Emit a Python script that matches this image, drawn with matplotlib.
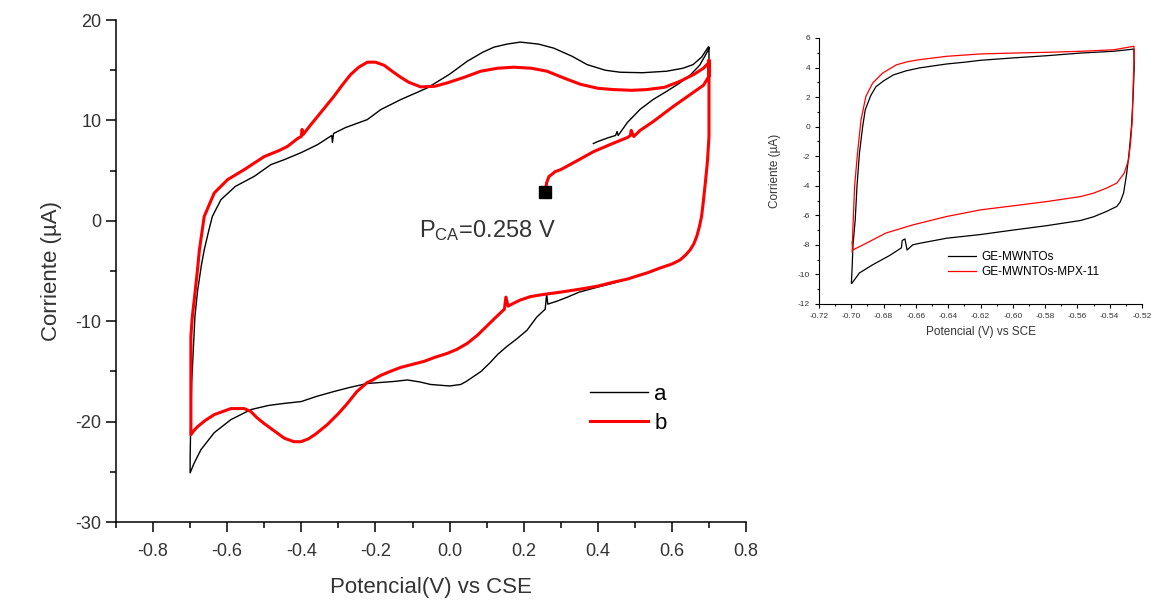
import matplotlib
matplotlib.use("Agg")
import matplotlib.pyplot as plt
from matplotlib.ticker import MultipleLocator

plt.rcParams["font.family"] = ["Liberation Sans", "DejaVu Sans"]
plt.rcParams["mathtext.fontset"] = "custom"
plt.rcParams["mathtext.rm"] = "Liberation Sans"
plt.rcParams["mathtext.it"] = "Liberation Sans"
plt.rcParams["axes.unicode_minus"] = False

TEXT = "#333333"

# ---- main CV, curve a (black) ----
a_x = [0.388, 0.40, 0.43, 0.448, 0.452, 0.455, 0.48, 0.514, 0.55, 0.586, 0.62, 0.649, 0.675, 0.698, 0.700,
       0.700, 0.700, 0.696, 0.691, 0.685, 0.680, 0.674, 0.667, 0.659, 0.649, 0.637, 0.622, 0.60, 0.568,
       0.532, 0.514, 0.48, 0.443, 0.40,
       0.35, 0.318, 0.29, 0.265, 0.262, 0.258, 0.235, 0.209, 0.18, 0.155, 0.13, 0.11, 0.085, 0.065, 0.045,
       0.03, 0.0, -0.051, -0.08, -0.114, -0.15, -0.186, -0.222, -0.27, -0.312, -0.36, -0.40, -0.45, -0.49,
       -0.536, -0.59, -0.635, -0.671, -0.690, -0.700,
       -0.700, -0.699, -0.696, -0.687, -0.680, -0.670, -0.662, -0.650, -0.640, -0.617, -0.578,
       -0.527, -0.482, -0.446, -0.40, -0.356, -0.318, -0.316, -0.313, -0.28, -0.222, -0.186,
       -0.132, -0.06, 0.0, 0.048, 0.09, 0.12, 0.155, 0.191, 0.24, 0.281, 0.33, 0.371, 0.42, 0.46, 0.52,
       0.586, 0.63, 0.657, 0.68, 0.698]
a_y = [7.7, 7.9, 8.3, 8.5, 8.9, 8.5, 9.8, 11.1, 12.1, 12.9, 13.7, 14.5, 15.5, 17.0, 17.3,
       12.0, 8.4, 6.0, 4.1, 2.0, 0.44, -0.6, -1.55, -2.3, -2.9, -3.4, -3.9, -4.3, -4.7,
       -5.2, -5.4, -5.8, -6.2, -6.6,
       -7.1, -7.6, -8.0, -8.3, -7.3, -8.8, -9.6, -10.9, -11.8, -12.5, -13.3, -14.1, -15.0, -15.5, -16.0,
       -16.3, -16.45, -16.3, -16.05, -15.85, -16.0, -16.1, -16.2, -16.6, -17.0, -17.5, -18.0, -18.2, -18.4,
       -18.8, -19.8, -21.1, -22.8, -24.2, -25.1,
       -23.5, -21.5, -16.2, -9.5, -7.0, -4.5, -2.9, -1.0, 0.44, 2.1, 3.43,
       4.43, 5.6, 6.09, 6.8, 7.59, 8.5, 7.8, 8.7, 9.3, 10.08, 11.07,
       12.07, 13.24, 14.6, 15.9, 16.8, 17.3, 17.6, 17.8, 17.6, 17.2, 16.4, 15.56, 15.0, 14.8, 14.75,
       14.9, 15.2, 15.56, 16.3, 17.3]

# ---- main CV, curve b (red) ----
b_x = [0.258, 0.262, 0.268, 0.285, 0.30, 0.34, 0.389, 0.44, 0.48, 0.488, 0.49, 0.497, 0.514, 0.55, 0.604,
       0.65, 0.685, 0.700, 0.700,
       0.700, 0.700, 0.696, 0.691, 0.685, 0.680, 0.674, 0.667, 0.659, 0.649, 0.637, 0.622, 0.60, 0.568,
       0.532, 0.514, 0.48, 0.443, 0.40, 0.353,
       0.30, 0.25, 0.218, 0.19, 0.173, 0.158, 0.152, 0.148, 0.125, 0.10, 0.075, 0.048, 0.02, -0.006, -0.04,
       -0.069, -0.10, -0.132, -0.16, -0.186, -0.21, -0.222, -0.25, -0.276, -0.30, -0.33, -0.36, -0.38,
       -0.401, -0.42, -0.446, -0.47, -0.50, -0.52, -0.536, -0.554, -0.59, -0.635, -0.66, -0.68,
       -0.69, -0.698,
       -0.698, -0.698, -0.694, -0.689, -0.680, -0.675, -0.662, -0.635, -0.599, -0.554,
       -0.50, -0.46, -0.437, -0.41, -0.40, -0.398, -0.395, -0.376, -0.356, -0.334, -0.312,
       -0.29, -0.267, -0.245, -0.222, -0.20, -0.177, -0.155, -0.132, -0.11, -0.078, -0.04, -0.006, 0.04,
       0.084, 0.13, 0.173, 0.22, 0.263, 0.31, 0.353, 0.40, 0.443, 0.49, 0.532, 0.58, 0.622, 0.66, 0.685,
       0.699]
b_y = [2.9, 3.8, 4.4, 4.9, 5.1, 5.9, 6.9, 7.7, 8.3, 8.5, 9.0, 8.4, 9.0, 9.9, 11.4,
       12.6, 13.5, 14.4, 16.0,
       12.0, 8.4, 6.0, 4.1, 2.0, 0.44, -0.6, -1.55, -2.3, -2.9, -3.4, -3.9, -4.3, -4.7,
       -5.2, -5.4, -5.8, -6.1, -6.5, -6.8,
       -7.1, -7.35, -7.55, -7.9, -8.2, -8.5, -7.6, -8.8, -9.6, -10.5, -11.4, -12.2, -12.8, -13.2, -13.6,
       -14.0, -14.3, -14.6, -15.0, -15.4, -15.9, -16.1, -17.0, -18.2, -19.2, -20.3, -21.2, -21.7,
       -22.0, -22.0, -21.65, -21.0, -20.2, -19.6, -19.0, -18.7, -18.7, -19.3, -19.9, -20.5,
       -20.9, -21.3,
       -17.0, -11.5, -9.5, -7.9, -4.8, -2.9, 0.44, 2.77, 4.1, 5.1,
       6.4, 7.0, 7.42, 8.2, 8.4, 9.1, 8.6, 9.5, 10.4, 11.4, 12.4,
       13.5, 14.57, 15.3, 15.8, 15.8, 15.5, 14.9, 14.3, 13.8, 13.34, 13.4, 13.74, 14.3,
       14.9, 15.2, 15.3, 15.2, 14.9, 14.2, 13.6, 13.2, 13.07, 13.0, 13.07, 13.3, 13.9, 14.6, 15.2,
       15.73]

pca_x = [0.258]
pca_y = [2.83]

# ---- inset ----
ia_x = [-0.700, -0.6995, -0.699, -0.6976, -0.6965, -0.695, -0.693, -0.6914, -0.688, -0.6848, -0.68, -0.674,
        -0.666, -0.658, -0.65, -0.641, -0.63, -0.62, -0.60, -0.579, -0.558, -0.5376, -0.525,
        -0.5248, -0.5255, -0.5265, -0.528, -0.5295, -0.5314, -0.5335, -0.5356, -0.542, -0.55, -0.558,
        -0.579, -0.60, -0.62, -0.641, -0.658, -0.662, -0.6655, -0.6668, -0.6685, -0.669, -0.676, -0.687,
        -0.695, -0.6997]
ia_y = [-10.6, -9.5, -8.0, -6.3, -4.0, -1.8, 0.0, 1.14, 2.1, 2.7, 3.1, 3.5,
        3.78, 3.97, 4.1, 4.24, 4.36, 4.49, 4.65, 4.8, 4.98, 5.1, 5.25,
        4.0, 2.0, 0.0, -1.8, -3.2, -4.5, -5.1, -5.4, -5.74, -6.1, -6.35,
        -6.7, -7.0, -7.3, -7.55, -7.9, -8.0, -8.35, -7.6, -7.7, -8.2, -8.7, -9.36,
        -9.9, -10.6]

ib_x = [-0.6995, -0.699, -0.698, -0.6962, -0.694, -0.691, -0.6868, -0.6806, -0.672, -0.665, -0.658, -0.641,
        -0.62, -0.60, -0.579, -0.558, -0.5376, -0.525,
        -0.5248, -0.5254, -0.526, -0.527, -0.5283, -0.531, -0.5356, -0.542, -0.55, -0.558, -0.579, -0.60,
        -0.62, -0.641, -0.662, -0.6786, -0.691, -0.699, -0.6995]
ib_y = [-8.5, -6.76, -4.05, -1.8, 0.47, 2.05, 2.95, 3.63, 4.19, 4.4, 4.53, 4.76,
        4.92, 4.98, 5.03, 5.1, 5.2, 5.44,
        5.0, 3.0, 0.47, -1.0, -2.25, -3.15, -3.82, -4.16, -4.5, -4.73, -5.07, -5.36,
        -5.63, -6.08, -6.65, -7.2, -7.9, -8.34, -7.8]

labels_main = ["a", "b"]
labels_inset = ["GE-MWNTOs", "GE-MWNTOs-MPX-11"]


def style_axes(ax, fs, lw, major_len, minor_len):
    ax.spines["top"].set_visible(False)
    ax.spines["right"].set_visible(False)
    ax.spines["left"].set_linewidth(lw)
    ax.spines["bottom"].set_linewidth(lw)
    ax.tick_params(which="major", direction="out", length=major_len, width=lw,
                   labelsize=fs, labelcolor=TEXT)
    ax.tick_params(which="minor", direction="out", length=minor_len, width=lw)


fig = plt.figure(figsize=(11.59, 6.01), dpi=100)

# main plot
ax = fig.add_axes([0.1001, 0.1314, 0.5436, 0.8353])
ax.plot(a_x, a_y, color="black", lw=1.0, label=labels_main[0])
ax.plot(b_x, b_y, color="#ff0000", lw=2.2, label=labels_main[1])
ax.plot(pca_x, pca_y, "s", color="black", ms=8)
ax.text(-0.0835, -1.6, r"P$_{\mathrm{CA}}$=0.258 V", fontsize=17, color=TEXT, va="baseline")

ax.set_xlim(-0.9, 0.8)
ax.set_ylim(-30, 20)
ax.xaxis.set_minor_locator(MultipleLocator(0.1))
ax.yaxis.set_major_locator(MultipleLocator(10))
ax.yaxis.set_minor_locator(MultipleLocator(5))
ax.set_xticks([-0.8, -0.6, -0.4, -0.2, 0.0, 0.2, 0.4, 0.6, 0.8])
ax.set_xticklabels(["-0.8", "-0.6", "-0.4", "-0.2", "0.0", "0.2", "0.4", "0.6", "0.8"])
style_axes(ax, 13, 1.1, 7, 4)
ax.tick_params(axis="x", pad=8)
ax.set_xlabel("Potencial(V) vs CSE", fontsize=16, color=TEXT, labelpad=12)
ax.set_ylabel("Corriente (\u00b5A)", fontsize=16, color=TEXT, labelpad=10)
ax.legend(loc="upper left", bbox_to_anchor=(0.752, 0.275), frameon=False, fontsize=16,
          handlelength=2.6, handletextpad=0.3, labelspacing=0.35, borderpad=0, borderaxespad=0)

# inset
ins = fig.add_axes([0.7067, 0.4942, 0.2786, 0.4426])
ins.plot(ia_x, ia_y, color="black", lw=0.9, label=labels_inset[0])
ins.plot(ib_x, ib_y, color="#ff0000", lw=0.9, label=labels_inset[1])
ins.set_xlim(-0.72, -0.52)
ins.set_ylim(-12, 6)
ins.xaxis.set_minor_locator(MultipleLocator(0.01))
ins.yaxis.set_major_locator(MultipleLocator(2))
ins.yaxis.set_minor_locator(MultipleLocator(1))
ins.set_xticks([-0.72 + 0.02 * i for i in range(11)])
ins.set_xticklabels(["-0.72", "-0.70", "-0.68", "-0.66", "-0.64", "-0.62", "-0.60",
                     "-0.58", "-0.56", "-0.54", "-0.52"])
style_axes(ins, 6, 0.8, 3, 1.5)
ins.set_xlabel("Potencial (V) vs SCE", fontsize=8.5, color=TEXT, labelpad=4)
ins.set_ylabel("Corriente (\u00b5A)", fontsize=8.5, color=TEXT, labelpad=12)
ins.legend(loc="upper left", bbox_to_anchor=(0.399, 0.2), frameon=False, fontsize=8.5,
           handlelength=2.4, handletextpad=0.4, labelspacing=0.3, borderpad=0, borderaxespad=0)

fig.savefig("out.png", dpi=100)
